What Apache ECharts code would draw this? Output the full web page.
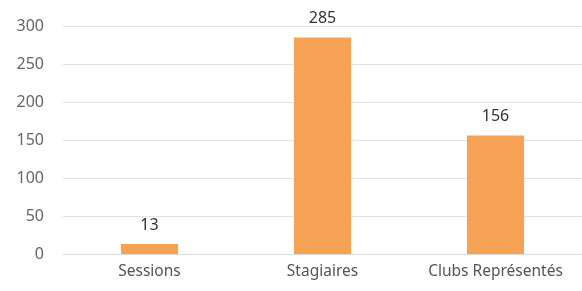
<!DOCTYPE html>
<html>
<head>
<meta charset="utf-8">
<script src="https://cdn.jsdelivr.net/npm/echarts@6/dist/echarts.min.js"></script>
<style>
  html, body { margin: 0; padding: 0; background: #fff; }
  #chart { width: 582px; height: 291px; }
</style>
</head>
<body>
<div id="chart"></div>
<script>
// catégories et valeurs
var categories = ['Sessions', 'Stagiaires', 'Clubs Représentés'];
var values = [13, 285, 156];
var yTicks = { min: 0, max: 300, interval: 50 };

var chart = echarts.init(document.getElementById('chart'));
var option = {
    animation: false,
    grid: { left: 63, right: 0, top: 26, bottom: 37 },
    xAxis: {
        type: 'category',
        data: categories,
        axisTick: { show: false },
        axisLine: { lineStyle: { color: '#dcdcdc', width: 1 } },
        axisLabel: {
            interval: 0,
            hideOverlap: false,
            color: '#555',
            fontFamily: 'Noto Sans',
            fontSize: 15.5,
            margin: 10
        }
    },
    yAxis: {
        type: 'value',
        min: yTicks.min,
        max: yTicks.max,
        interval: yTicks.interval,
        axisLine: { show: false },
        axisTick: { show: false },
        splitLine: { lineStyle: { color: '#e3e3e3', width: 1 } },
        axisLabel: {
            color: '#666',
            fontFamily: 'Noto Sans',
            fontSize: 16,
            margin: 19
        }
    },
    series: [{
        type: 'bar',
        data: values,
        barWidth: '33%',
        itemStyle: { color: '#F6A255' },
        label: {
            show: true,
            position: 'top',
            distance: 11,
            color: '#333',
            fontFamily: 'Noto Sans',
            fontSize: 16
        }
    }]
};
chart.setOption(option);
window.addEventListener('resize', function () {
    chart.resize();
});
</script>
</body>
</html>
